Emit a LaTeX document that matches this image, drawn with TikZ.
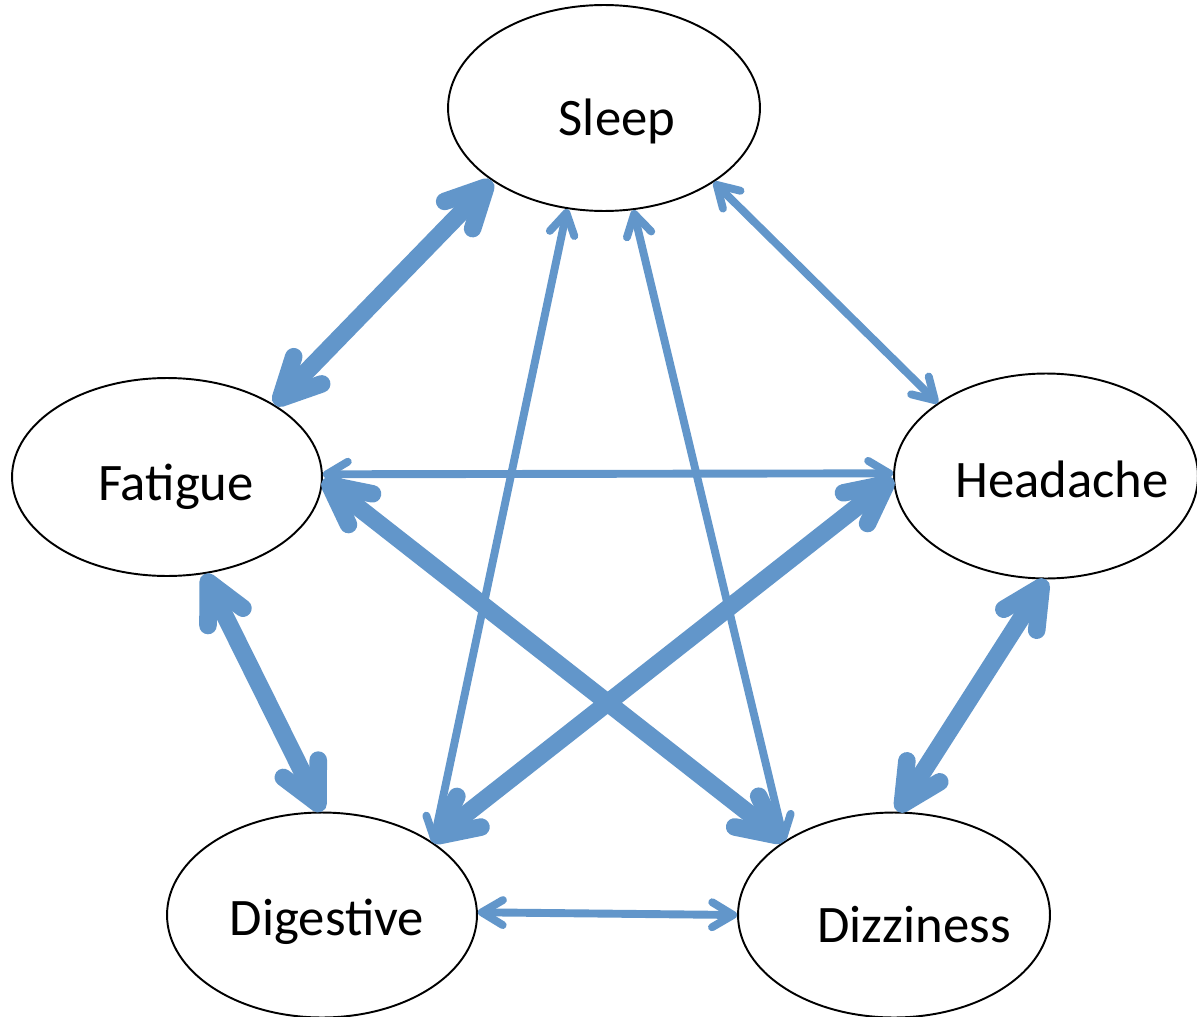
\documentclass[tikz,border=0pt]{standalone}
\usepackage{fontspec}
\setmainfont{Carlito}
\usepackage{tikz}
\usetikzlibrary{shapes.geometric,arrows.meta}

\definecolor{azul}{RGB}{98,150,202}

\tikzset{
  elipse/.style={ellipse, draw, line width=1.1pt, inner sep=0pt,
    minimum width=6.2cm, minimum height=4.1cm},
  rotulo/.style={font=\fontsize{30}{36}\selectfont, anchor=base, inner sep=0pt},
  setafina/.style={draw=azul, line width=4.5pt,
    >={Straight Barb[round,length=0.42cm,width=0.5cm]}, <->},
  setagrossa/.style={draw=azul, line width=10pt,
    >={Straight Barb[round,length=0.78cm,width=0.78cm]}, <->},
}

\begin{document}
\begin{tikzpicture}[x=0.02cm, y=-0.02cm]
		\useasboundingbox (0,0) rectangle (1197,1017);
		
		% Elipses
		\node[elipse, minimum width=6.24cm, minimum height=4.12cm] (sleep) at (604,108) {};
		\node[elipse, minimum height=3.96cm] (fatigue) at (167,477) {};
		\node[elipse, minimum width=6.08cm] (headache) at (1046,476) {};
		\node[elipse] (digestive) at (322,915) {};
		\node[elipse, minimum width=6.24cm] (dizziness) at (894,915) {};
		
		% Rótulos
		\node[rotulo] (sleepT) at (617,135) {Sleep};
		\node[rotulo] (fatigueT) at (176,500) {Fatigue};
		\node[rotulo] (headacheT) at (1062,497) {Headache};
		\node[rotulo] (digestiveT) at (327,935) {Digestive};
		\node[rotulo] (dizzinessT) at (914,942) {Dizziness};
		
		% Setas grossas
		\draw[setagrossa] (sleep.213) -- (fatigue.34);
		\draw[setagrossa] (fatigue.291) -- (digestive.90);
		\draw[setagrossa] (headache.270) -- (dizziness.88);
		\draw[setagrossa] (fatigue.-1) -- (dizziness.146);
		\draw[setagrossa] (headache.181) -- (digestive.34);
		
		% Setas finas
		\draw[setafina] (sleep.326) -- (headache.146);
		\draw[setafina] (sleep.250) -- (digestive.33);
		\draw[setafina] (sleep.286) -- (dizziness.146);
		\draw[setafina] (fatigue.1) -- (headache.179);
		\draw[setafina] (digestive.1) -- (dizziness.180);
	\end{tikzpicture}
\end{document}
